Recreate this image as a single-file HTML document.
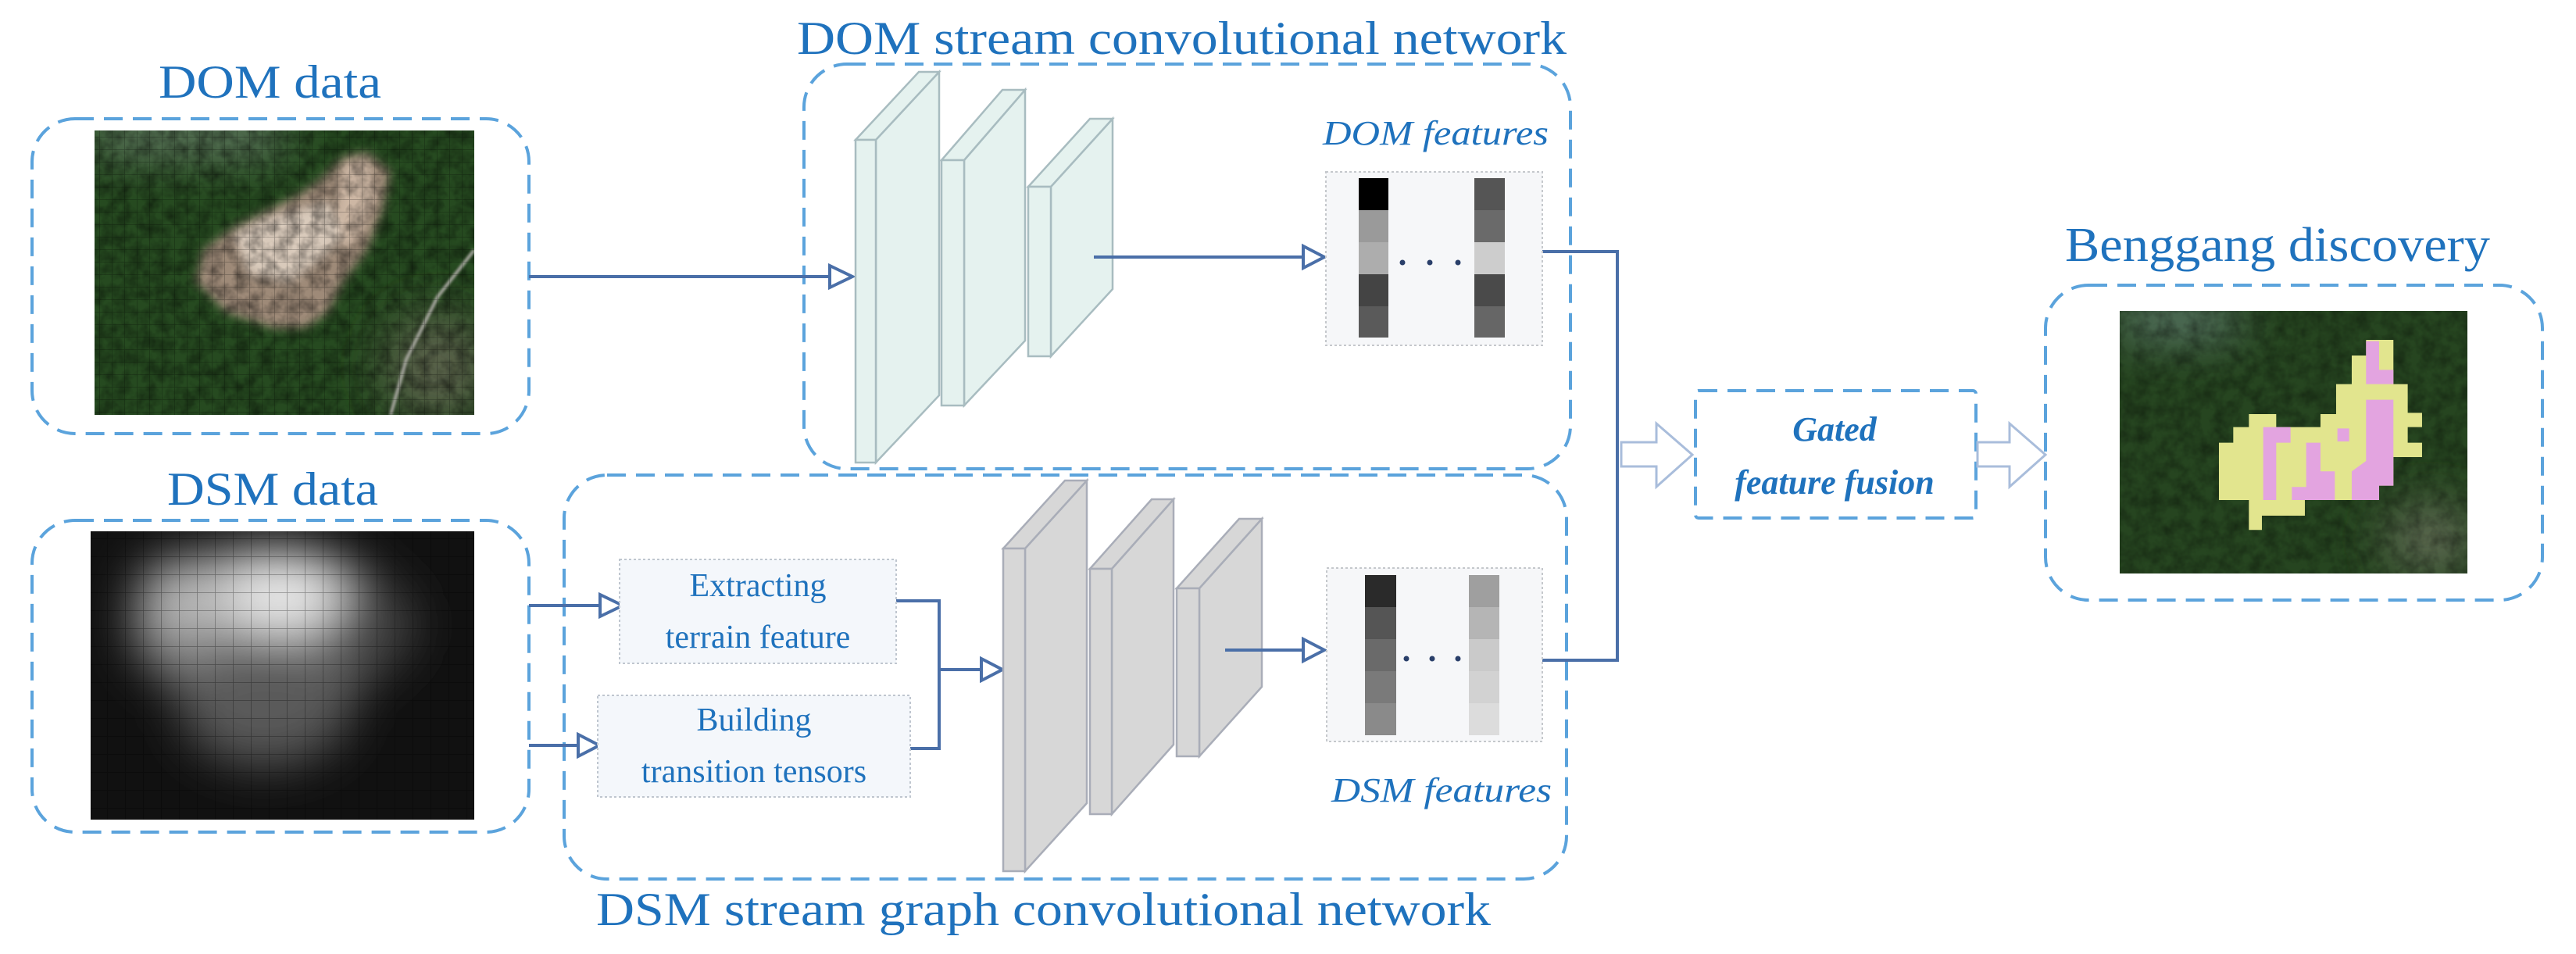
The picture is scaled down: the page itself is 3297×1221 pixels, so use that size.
<!DOCTYPE html>
<html><head><meta charset="utf-8"><style>
html,body{margin:0;padding:0;background:#fff;}
svg{display:block;}
</style></head><body>
<svg width="3297" height="1221" viewBox="0 0 3297 1221" xmlns="http://www.w3.org/2000/svg">
<defs>
<pattern id="grid" width="16" height="16" patternUnits="userSpaceOnUse"><path d="M16 0V16H0" fill="none" stroke="#000" stroke-opacity="0.28" stroke-width="1.5"/></pattern>
<pattern id="grid2" width="23" height="23" patternUnits="userSpaceOnUse"><path d="M23 0V23H0" fill="none" stroke="#000" stroke-opacity="0.35" stroke-width="1.5"/></pattern>
<filter id="bl" x="-20%" y="-20%" width="140%" height="140%"><feGaussianBlur stdDeviation="6"/></filter>
<filter id="bl2" x="-30%" y="-30%" width="160%" height="160%"><feGaussianBlur stdDeviation="30"/></filter>
<filter id="bl3"><feGaussianBlur stdDeviation="1.5"/></filter>
<filter id="noise" x="0" y="0" width="100%" height="100%">
<feTurbulence type="fractalNoise" baseFrequency="0.06" numOctaves="3" seed="4"/>
<feColorMatrix type="matrix" values="0 0 0 0 0  0 0 0 0 0  0 0 0 0 0  0 0 0 -1.4 0.95"/>
</filter>
<clipPath id="c1"><rect x="121" y="167" width="486" height="364"/></clipPath>
<clipPath id="c2"><rect x="116" y="680" width="491" height="369"/></clipPath>
<clipPath id="c3"><rect x="2713" y="398" width="445" height="336"/></clipPath>
</defs>

<g font-family="'Liberation Serif', serif" fill="#1f72bd">
<text x="203" y="125" font-size="60" textLength="285" lengthAdjust="spacingAndGlyphs">DOM data</text>
<text x="214" y="646" font-size="60" textLength="270" lengthAdjust="spacingAndGlyphs">DSM data</text>
<text x="1020" y="69" font-size="60" textLength="985" lengthAdjust="spacingAndGlyphs">DOM stream convolutional network</text>
<text x="763" y="1184" font-size="60" textLength="1145" lengthAdjust="spacingAndGlyphs">DSM stream graph convolutional network</text>
<text x="2643" y="334" font-size="62" textLength="544" lengthAdjust="spacingAndGlyphs">Benggang discovery</text>
<text x="1693" y="185" font-size="44" font-style="italic" textLength="289" lengthAdjust="spacingAndGlyphs">DOM features</text>
<text x="1704" y="1026" font-size="44" font-style="italic" textLength="282" lengthAdjust="spacingAndGlyphs">DSM features</text>
</g>

<g fill="none" stroke="#5ba3dc" stroke-width="4" stroke-dasharray="24 13">
<rect x="41" y="152" width="636" height="403" rx="55"/>
<rect x="41" y="666" width="636" height="399" rx="55"/>
<rect x="1029" y="82" width="981" height="518" rx="55"/>
<rect x="722" y="608" width="1283" height="517" rx="55"/>
<rect x="2170" y="500" width="359" height="163" rx="4"/>
<rect x="2618" y="365" width="636" height="403" rx="55"/>
</g>

<!-- DOM image -->
<g clip-path="url(#c1)">
<rect x="121" y="167" width="486" height="364" fill="#264a20"/>
<g filter="url(#bl2)">
<rect x="121" y="160" width="240" height="30" fill="#8a9a90"/>
<ellipse cx="560" cy="470" rx="70" ry="70" fill="#58604a"/>
</g>
<g filter="url(#bl)">
<polygon points="260,320 300,290 340,270 380,250 410,230 440,200 470,195 500,220 490,270 470,320 440,360 420,400 390,420 350,420 320,410 290,400 270,380 250,360" fill="#9e8a78"/>
<polygon points="300,300 340,280 380,270 420,260 440,300 410,330 370,360 320,350" fill="#d9cabb"/>
<polygon points="440,210 470,205 480,250 460,300 440,320 430,270" fill="#cdb7a4"/>
</g>
<rect x="121" y="167" width="486" height="364" filter="url(#noise)" opacity="0.55"/>
<path d="M607 320 L560 380 L520 460 L500 531" stroke="#a8a8a0" stroke-width="4" fill="none" filter="url(#bl3)"/>
<rect x="121" y="167" width="486" height="364" fill="url(#grid)"/>
</g>

<!-- DSM image -->
<g clip-path="url(#c2)">
<rect x="116" y="680" width="491" height="369" fill="#111"/>
<g filter="url(#bl2)">
<ellipse cx="340" cy="800" rx="170" ry="100" fill="#8a8a8a"/>
<ellipse cx="340" cy="900" rx="110" ry="80" fill="#5a5a5a"/>
<ellipse cx="470" cy="800" rx="60" ry="60" fill="#444"/>
<ellipse cx="360" cy="760" rx="80" ry="50" fill="#e8e8e8"/>
<ellipse cx="240" cy="760" rx="60" ry="45" fill="#bbb"/>
</g>
<rect x="116" y="680" width="491" height="369" fill="url(#grid2)"/>
</g>

<!-- Benggang image -->
<g clip-path="url(#c3)">
<rect x="2713" y="398" width="445" height="336" fill="#264520"/>
<g filter="url(#bl2)">
<rect x="2713" y="395" width="150" height="30" fill="#7f9a9a"/>
<ellipse cx="3110" cy="690" rx="60" ry="45" fill="#5e6a52"/>
</g>
<rect x="2713" y="398" width="445" height="336" filter="url(#noise)" opacity="0.45"/>
<g transform="translate(2700,390) scale(0.3333)">
<polygon fill="#e2e58e" points="985,135 1090,135 1090,305 1145,305 1145,415 1200,415 1200,470 1145,470 1145,530 1200,530 1200,585 1090,585 1090,695 1035,695 1035,750 750,750 750,810 585,810 585,865 535,865 535,750 420,750 420,530 475,530 475,470 535,470 535,420 640,420 640,470 810,470 810,420 870,420 870,305 930,305 930,195 985,195"/>
<g fill="#e3a4e0">
<polygon points="590,470 695,470 695,530 640,530 640,750 590,750"/>
<polygon points="755,530 810,530 810,640 865,640 865,750 700,750 700,700 755,700"/>
<polygon points="875,475 920,475 920,525 875,525"/>
<polygon points="985,365 1090,365 1090,695 1035,695 1035,750 930,750 930,640 985,600"/>
<polygon points="985,140 1035,140 1035,250 1090,250 1090,305 985,305"/>
</g>
</g>
</g>

<g stroke="#4a6fa8" stroke-width="4" fill="none">
<line x1="677" y1="354" x2="1062" y2="354"/>
<line x1="677" y1="775" x2="768" y2="775"/>
<line x1="677" y1="954" x2="740" y2="954"/>
<polyline points="1147,769 1202,769 1202,958 1165,958"/>
<line x1="1202" y1="857" x2="1256" y2="857"/>
<polyline points="1974,322 2070,322 2070,845 1974,845"/>
</g>
<g stroke="#4a6fa8" stroke-width="4" fill="#fff">
<polygon points="1062,340 1091,354 1062,368"/>
<polygon points="768,761 797,775 768,789"/>
<polygon points="740,940 767,954 740,968"/>
<polygon points="1256,843 1283,857 1256,871"/>
<polygon points="1668,315 1695,329 1668,343"/>
<polygon points="1668,818 1695,832 1668,846"/>
</g>

<g stroke="#a9bddb" stroke-width="3" fill="#fff">
<polygon points="2075,566 2120,566 2120,542 2166,582 2120,623 2120,597 2075,597"/>
<polygon points="2531,566 2572,566 2572,542 2618,582 2572,623 2572,597 2531,597"/>
</g>

<g font-family="'Liberation Serif', serif" fill="#1f72bd" font-style="italic" font-weight="bold" text-anchor="middle">
<text x="2348" y="564" font-size="44">Gated</text>
<text x="2348" y="632" font-size="44">feature fusion</text>
</g>

<g stroke="#a8bcc0" stroke-width="2.5" fill="#e5f2ef">
<polygon points="1121,179 1202,92 1202,506 1121,592"/>
<polygon points="1095,179 1121,179 1202,92 1176,92"/>
<rect x="1095" y="179" width="26" height="413"/>
<polygon points="1234,205 1312,115 1312,436 1234,519"/>
<polygon points="1205,205 1234,205 1312,115 1283,115"/>
<rect x="1205" y="205" width="29" height="314"/>
<polygon points="1345,239 1424,152 1424,370 1345,456"/>
<polygon points="1316,239 1345,239 1424,152 1395,152"/>
<rect x="1316" y="239" width="29" height="217"/>
</g>

<g stroke="#a9adb8" stroke-width="2.5" fill="#d7d7d7">
<polygon points="1312,702 1391,615 1391,1028 1312,1115"/>
<polygon points="1284,702 1312,702 1391,615 1363,615"/>
<rect x="1284" y="702" width="28" height="413"/>
<polygon points="1423,728 1502,639 1502,953 1423,1042"/>
<polygon points="1395,728 1423,728 1502,639 1474,639"/>
<rect x="1395" y="728" width="28" height="314"/>
<polygon points="1535,753 1615,664 1615,879 1535,968"/>
<polygon points="1506,753 1535,753 1615,664 1586,664"/>
<rect x="1506" y="753" width="29" height="215"/>
</g>
<line x1="1568" y1="832" x2="1668" y2="832" stroke="#4a6fa8" stroke-width="4"/>
<line x1="1400" y1="329" x2="1668" y2="329" stroke="#4a6fa8" stroke-width="4"/>

<g fill="#f4f7fb" stroke="#bfc6cf" stroke-width="2" stroke-dasharray="3 3">
<rect x="793" y="716" width="354" height="133"/>
<rect x="765" y="890" width="400" height="130"/>
</g>
<g font-family="'Liberation Serif', serif" fill="#1f72bd" font-size="42" text-anchor="middle">
<text x="970" y="763">Extracting</text>
<text x="970" y="829">terrain feature</text>
<text x="965" y="935">Building</text>
<text x="965" y="1001">transition tensors</text>
</g>

<g fill="#f6f7f9" stroke="#c5c8cc" stroke-width="2" stroke-dasharray="3 3">
<rect x="1697" y="220" width="277" height="222"/>
<rect x="1698" y="727" width="276" height="222"/>
</g>
<g>
<rect x="1739" y="228" width="38" height="41" fill="#000"/>
<rect x="1739" y="269" width="38" height="41" fill="#9a9a9a"/>
<rect x="1739" y="310" width="38" height="41" fill="#adadad"/>
<rect x="1739" y="351" width="38" height="41" fill="#444"/>
<rect x="1739" y="392" width="38" height="40" fill="#5a5a5a"/>
<rect x="1887" y="228" width="39" height="41" fill="#555"/>
<rect x="1887" y="269" width="39" height="41" fill="#6a6a6a"/>
<rect x="1887" y="310" width="39" height="41" fill="#cdcdcd"/>
<rect x="1887" y="351" width="39" height="41" fill="#4a4a4a"/>
<rect x="1887" y="392" width="39" height="40" fill="#666"/>
<rect x="1747" y="736" width="40" height="41" fill="#2a2a2a"/>
<rect x="1747" y="777" width="40" height="41" fill="#555"/>
<rect x="1747" y="818" width="40" height="41" fill="#6a6a6a"/>
<rect x="1747" y="859" width="40" height="41" fill="#7a7a7a"/>
<rect x="1747" y="900" width="40" height="41" fill="#8a8a8a"/>
<rect x="1880" y="736" width="39" height="41" fill="#9f9f9f"/>
<rect x="1880" y="777" width="39" height="41" fill="#b5b5b5"/>
<rect x="1880" y="818" width="39" height="41" fill="#cacaca"/>
<rect x="1880" y="859" width="39" height="41" fill="#d2d2d2"/>
<rect x="1880" y="900" width="39" height="41" fill="#dcdcdc"/>
</g>
<g fill="#2a3f6a">
<circle cx="1795" cy="336" r="3.5"/><circle cx="1830" cy="336" r="3.5"/><circle cx="1866" cy="336" r="3.5"/>
<circle cx="1800" cy="843" r="3.5"/><circle cx="1833" cy="843" r="3.5"/><circle cx="1866" cy="843" r="3.5"/>
</g>
</svg>
</body></html>
